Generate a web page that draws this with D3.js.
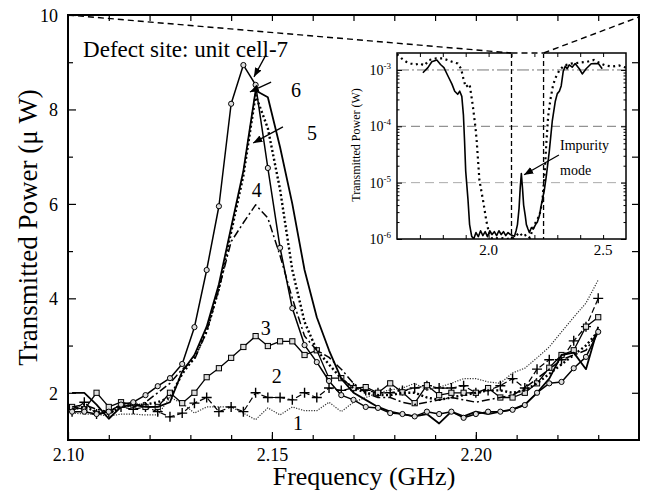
<!DOCTYPE html>
<html>
<head>
<meta charset="utf-8">
<script src="https://cdn.jsdelivr.net/npm/d3@7"></script>
<style>
  body { margin: 0; background: #fff; }
  svg text { font-family: "Liberation Serif", "Times New Roman", serif; fill: #000; }
  .axis path { display: none; }
  .axis line { stroke: #000; stroke-width: 1.2; }
</style>
</head>
<body>
<div id="chart"></div>
<script>
// ---- data ----
var freq = [2.101, 2.104, 2.107, 2.110, 2.113, 2.116, 2.119, 2.122, 2.125, 2.128, 2.131,
            2.134, 2.137, 2.140, 2.143, 2.146, 2.149, 2.152, 2.155, 2.158, 2.161, 2.164,
            2.167, 2.170, 2.173, 2.176, 2.179, 2.182, 2.185, 2.188, 2.191, 2.194, 2.197,
            2.200, 2.203, 2.206, 2.209, 2.212, 2.215, 2.218, 2.221, 2.224, 2.227, 2.230];

var curve1 = [1.57, 1.55, 1.55, 1.5, 1.55, 1.55, 1.53, 1.53, 1.9, 1.78, 1.57, 1.7, 1.7, 1.7, 1.57,
              1.43, 1.68, 1.53, 1.7, 1.62, 1.62, 1.8, 1.6, 1.8, 1.9, 2.0, 2.06, 2.1, 2.2, 2.06,
              2.12, 2.2, 2.3, 2.3, 2.23, 2.2, 2.42, 2.52, 2.74, 2.97, 3.29, 3.6, 3.9, 4.39];
var curve2 = [1.6, 1.8, 1.55, 1.6, 1.7, 1.65, 1.7, 1.6, 1.49, 1.57, 1.78, 1.9, 1.6, 1.7, 1.6,
              2.0, 1.9, 1.9, 1.85, 2.0, 1.9, 2.1, 2.05, 2.1, 2.05, 2.0, 2.0, 2.05, 2.1, 2.15,
              2.1, 2.1, 2.15, 2.0, 2.05, 2.15, 2.3, 2.1, 2.5, 2.7, 2.7, 3.1, 3.4, 4.0];
var curve3 = [1.7, 1.65, 2.0, 1.7, 1.8, 1.75, 1.7, 1.7, 2.0, 1.78, 2.0, 2.33, 2.52, 2.74, 2.97,
              3.2, 2.99, 3.09, 3.09, 2.8, 2.9, 2.31, 2.31, 2.1, 2.12, 2.0, 2.2, 2.01, 1.78, 2.16,
              1.95, 2.0, 2.0, 2.0, 2.1, 1.9, 1.9, 2.0, 2.2, 2.53, 2.8, 2.9, 3.4, 3.6];
var curve4 = [1.7, 1.75, 1.65, 1.6, 1.75, 1.7, 1.8, 2.0, 2.2, 2.5, 2.7, 3.3, 4.2, 5.2, 5.6,
              5.98, 5.7, 4.9, 4.0, 3.2, 2.9, 2.75, 2.5, 2.2, 2.0, 1.9, 1.9, 1.8, 1.75, 1.8,
              1.85, 1.9, 1.85, 1.8, 1.85, 1.9, 1.95, 2.1, 2.3, 2.5, 2.7, 2.8, 2.9, 3.3];
var curve5 = [1.65, 1.7, 1.6, 1.55, 1.7, 1.75, 1.75, 1.8, 1.9, 2.4, 2.75, 3.3, 4.2, 5.4, 6.6,
              8.3, 7.6, 6.3, 4.6, 3.5, 2.9, 2.6, 2.3, 2.1, 2.0, 1.95, 1.95, 2.0, 2.0, 1.9,
              1.85, 1.9, 1.95, 2.0, 2.05, 2.05, 2.0, 2.05, 2.2, 2.4, 2.6, 2.8, 3.0, 3.3];
var curve6 = [2.0, 2.0, 1.75, 1.45, 1.7, 1.75, 1.7, 1.7, 1.8, 2.45, 2.8, 3.4, 4.3, 5.5, 6.7,
              8.4, 8.26, 7.2, 6.0, 4.6, 3.6, 2.9, 2.3, 2.0, 1.85, 1.7, 1.6, 1.55, 1.5, 1.55,
              1.35, 1.6, 1.5, 1.6, 1.55, 1.6, 1.65, 1.75, 2.0, 2.3, 2.8, 2.85, 2.5, 3.4];
var curve7 = [1.6, 1.6, 1.55, 1.6, 1.75, 1.8, 1.95, 2.14, 2.31, 2.61, 3.39, 4.6, 5.95, 8.12, 8.94,
              8.52, 6.76, 5.07, 3.79, 3.01, 2.65, 2.25, 1.95, 1.85, 1.7, 1.68, 1.57, 1.55, 1.5, 1.6,
              1.55, 1.6, 1.47, 1.55, 1.6, 1.6, 1.64, 1.74, 2.0, 2.2, 2.23, 2.52, 2.76, 3.29];

var curveLabels = ["1", "2", "3", "4", "5", "6"];
var xMajorTicks = [2.10, 2.15, 2.20];
var yMajorTicks = [2, 4, 6, 8, 10];

// inset: full band, power in W
var insetSolidFreq = [1.713, 1.735, 1.752, 1.774, 1.79, 1.805, 1.822, 1.84, 1.852, 1.865, 1.874, 1.883,
                      1.89, 1.895, 1.9, 1.91, 1.917, 1.926, 1.935, 1.945, 1.955, 1.965, 1.975, 1.985,
                      1.995, 2.005, 2.015, 2.025, 2.035, 2.045, 2.055, 2.065, 2.075, 2.085, 2.095, 2.105,
                      2.113, 2.12, 2.126, 2.133, 2.138, 2.143, 2.148, 2.153, 2.16, 2.165, 2.172, 2.178,
                      2.187, 2.195, 2.205, 2.213, 2.222, 2.23, 2.243, 2.252, 2.265, 2.278, 2.291, 2.3,
                      2.309, 2.317, 2.326, 2.335, 2.343, 2.352, 2.365, 2.378, 2.396, 2.409, 2.426, 2.448,
                      2.465, 2.48, 2.496];
var insetSolidPower = [8.9e-4, 1.1e-3, 1.4e-3, 1.5e-3, 1.25e-3, 1.1e-3, 7.9e-4, 5.6e-4, 4.2e-4, 3.7e-4, 4.2e-4, 3.4e-4,
                       1.6e-4, 5.5e-5, 1.6e-5, 5e-6, 1.8e-6, 1.12e-6, 1.0e-6, 1.3e-6, 1.1e-6, 1.4e-6, 1.15e-6, 1.35e-6,
                       1.1e-6, 1.4e-6, 1.2e-6, 1.35e-6, 1.15e-6, 1.4e-6, 1.2e-6, 1.35e-6, 1.15e-6, 1.3e-6, 1.2e-6, 1.15e-6,
                       1.12e-6, 1.4e-6, 1.8e-6, 3.5e-6, 8e-6, 1.45e-5, 8e-6, 4e-6, 2.6e-6, 1.8e-6, 1.5e-6, 1.3e-6,
                       1.6e-6, 1.5e-6, 1.8e-6, 2e-6, 2.6e-6, 4e-6, 7.2e-6, 1.3e-5, 3.6e-5, 1.23e-4, 2.75e-4, 3.8e-4,
                       4.2e-4, 5.2e-4, 9.5e-4, 1.17e-3, 1.05e-3, 1.23e-3, 1.12e-3, 1.3e-3, 1.05e-3, 8.5e-4, 1.05e-3, 1.29e-3,
                       1.3e-3, 1.29e-3, 1.05e-3];
var insetDotFreq = [1.6, 1.62, 1.64, 1.66, 1.68, 1.7, 1.72, 1.74, 1.77, 1.8, 1.82, 1.84, 1.865, 1.88,
                    1.89, 1.9, 1.917, 1.93, 1.943, 1.948, 1.96, 1.978, 1.99, 2.004, 2.017, 2.05, 2.08, 2.11,
                    2.135, 2.15, 2.165, 2.18, 2.2, 2.222, 2.235, 2.245, 2.252, 2.26, 2.27, 2.28, 2.29, 2.31,
                    2.33, 2.36, 2.4, 2.43, 2.46, 2.49, 2.51, 2.54, 2.57, 2.6];
var insetDotPower = [1.9e-3, 1.6e-3, 1.4e-3, 1.3e-3, 1.25e-3, 1.3e-3, 1.2e-3, 1.5e-3, 1.6e-3, 1.6e-3, 1.5e-3, 1.4e-3,
                     1.3e-3, 1.05e-3, 7e-4, 5e-4, 5.6e-4, 2.5e-4, 9.3e-5, 5.5e-5, 1.1e-5, 4.3e-6, 2.1e-6, 1.17e-6,
                     1.0e-6, 1.05e-6, 1.0e-6, 1.05e-6, 1.3e-6, 1.1e-6, 1.2e-6, 1.05e-6, 1.8e-6, 2.6e-6, 4.8e-6, 1.5e-5,
                     5e-5, 1.5e-4, 3e-4, 5e-4, 7e-4, 1e-3, 1.2e-3, 1.3e-3, 1.35e-3, 1.4e-3, 1.5e-3, 1.3e-3,
                     1.2e-3, 1.15e-3, 1.2e-3, 1.1e-3];
var insetYTicks = [1e-6, 1e-5, 1e-4, 1e-3];
var insetYExp = ["-6", "-5", "-4", "-3"];
var insetXTicks = [2.0, 2.5];
var zoomBand = [2.10, 2.24];

var serif = "'Liberation Serif', 'Times New Roman', serif";

// ---- canvas ----
var margin = {top: 15, right: 7, bottom: 51, left: 68},
    width = 646 - margin.left - margin.right,
    height = 491 - margin.top - margin.bottom;

var svg = d3.select("#chart").append("svg")
    .attr("width", 646).attr("height", 491)
    .attr("font-family", serif)
  .append("g")
    .attr("transform", "translate(" + margin.left + "," + margin.top + ")");

var defs = svg.append("defs");
defs.append("clipPath").attr("id", "clipMain")
  .append("rect").attr("width", width).attr("height", height);
defs.append("marker").attr("id", "arrow")
    .attr("viewBox", "0 0 10 10").attr("refX", 10).attr("refY", 5)
    .attr("markerWidth", 7).attr("markerHeight", 7).attr("orient", "auto")
  .append("path").attr("d", "M0,1 L10,5 L0,9 z").attr("fill", "#000");

var x = d3.scaleLinear().domain([2.10, 2.24]).range([0, width]);
var y = d3.scaleLinear().domain([1, 10]).range([height, 0]);

// ---- main axes (ticks inward) ----
svg.append("g").attr("class", "axis")
  .attr("transform", "translate(0," + height + ")")
  .call(d3.axisBottom(x).tickValues(xMajorTicks).tickSize(-8).tickPadding(8)
        .tickFormat(d3.format(".2f")))
  .selectAll("text").style("font-size", "18px");
svg.append("g").attr("class", "axis")
  .attr("transform", "translate(0," + height + ")")
  .call(d3.axisBottom(x).tickValues(d3.range(2.11, 2.235, 0.01)).tickSize(-5).tickFormat(""));
svg.append("g").attr("class", "axis")
  .call(d3.axisTop(x).tickValues(d3.range(2.11, 2.235, 0.01)).tickSize(-6).tickFormat(""));

svg.append("g").attr("class", "axis")
  .call(d3.axisLeft(y).tickValues(yMajorTicks).tickSize(-8).tickPadding(10))
  .selectAll("text").style("font-size", "18px").attr("dy", "0.35em");
svg.append("g").attr("class", "axis")
  .call(d3.axisLeft(y).tickValues([3, 5, 7, 9]).tickSize(-5).tickFormat(""));
svg.append("g").attr("class", "axis")
  .attr("transform", "translate(" + width + ",0)")
  .call(d3.axisRight(y).tickValues(d3.range(2, 10, 1)).tickSize(-7).tickFormat(""));

svg.append("rect").attr("width", width).attr("height", height)
  .attr("fill", "none").attr("stroke", "#000").attr("stroke-width", 2);

// axis titles
svg.append("text")
  .attr("x", 296).attr("y", height + 45)
  .attr("text-anchor", "middle").style("font-size", "26px")
  .text("Frequency (GHz)");
svg.append("text")
  .attr("transform", "translate(" + (-31) + "," + (height / 2) + ") rotate(-90)")
  .attr("text-anchor", "middle").style("font-size", "27px")
  .text("Transmitted Power (\u03bc W)");

// ---- curves ----
var series = [
  {values: curve1, width: 1.2, dash: "1.2,1.4", color: "#333"},
  {values: curve2, width: 1.2, dash: "6,3", marker: "plus"},
  {values: curve3, width: 1.3, dash: null, marker: "square"},
  {values: curve4, width: 1.5, dash: "8,3,2,3"},
  {values: curve5, width: 2.4, dash: "2,2.5"},
  {values: curve6, width: 1.8, dash: null},
  {values: curve7, width: 1.5, dash: null, marker: "circle"}
];

var line = d3.line()
  .x(function(d) { return x(d.f); })
  .y(function(d) { return y(d.v); });

var plot = svg.append("g").attr("clip-path", "url(#clipMain)");

series.forEach(function(s) {
  var pts = freq.map(function(f, i) { return {f: f, v: s.values[i]}; });
  plot.append("path")
    .datum(pts)
    .attr("d", line)
    .attr("fill", "none")
    .attr("stroke", s.color || "#000")
    .attr("stroke-width", s.width)
    .attr("stroke-dasharray", s.dash)
    .attr("stroke-linejoin", "round");

  if (s.marker === "circle") {
    plot.selectAll(null).data(pts).enter().append("circle")
      .attr("cx", function(d) { return x(d.f); })
      .attr("cy", function(d) { return y(d.v); })
      .attr("r", 2.6).attr("fill", "#ddd").attr("stroke", "#000").attr("stroke-width", 1);
  } else if (s.marker === "square") {
    plot.selectAll(null).data(pts).enter().append("rect")
      .attr("x", function(d) { return x(d.f) - 2.6; })
      .attr("y", function(d) { return y(d.v) - 2.6; })
      .attr("width", 5.2).attr("height", 5.2)
      .attr("fill", "#ddd").attr("stroke", "#000").attr("stroke-width", 1);
  } else if (s.marker === "plus") {
    plot.selectAll(null).data(pts).enter().append("path")
      .attr("transform", function(d) { return "translate(" + x(d.f) + "," + y(d.v) + ")"; })
      .attr("d", "M-5,0H5M0,-5V5")
      .attr("stroke", "#000").attr("stroke-width", 1.4);
  }
});

// ---- annotations ----
var labelPos = [[2.1564, 1.21], [2.1512, 2.21], [2.1485, 3.22], [2.1463, 6.15], [2.1598, 7.35], [2.1559, 8.26]];
svg.selectAll(".clabel").data(curveLabels).enter().append("text")
  .attr("class", "clabel")
  .attr("x", function(d, i) { return x(labelPos[i][0]); })
  .attr("y", function(d, i) { return y(labelPos[i][1]); })
  .attr("text-anchor", "middle").style("font-size", "20px")
  .text(function(d) { return d; });

svg.append("text")
  .attr("x", x(2.1037)).attr("y", y(9.11))
  .style("font-size", "23px")
  .text("Defect site: unit cell-7");

var arrows = [
  [[2.1485, 9.15], [2.1456, 8.69]],
  [[2.1498, 8.58], [2.1446, 8.37]],
  [[2.1527, 7.63], [2.1454, 7.29]]
];
arrows.forEach(function(a) {
  svg.append("line")
    .attr("x1", x(a[0][0])).attr("y1", y(a[0][1]))
    .attr("x2", x(a[1][0])).attr("y2", y(a[1][1]))
    .attr("stroke", "#000").attr("stroke-width", 1.3)
    .attr("marker-end", "url(#arrow)");
});

// ---- inset ----
var inset = {left: 329, right: 558, top: 38, bottom: 224};
var xi = d3.scaleLinear().domain([1.6, 2.6]).range([inset.left, inset.right]);
var yi = d3.scaleLog().domain([1e-6, 2e-3]).range([inset.bottom, inset.top]);

defs.append("clipPath").attr("id", "clipInset")
  .append("rect").attr("x", inset.left).attr("y", inset.top)
  .attr("width", inset.right - inset.left).attr("height", inset.bottom - inset.top);

svg.append("rect")
  .attr("x", inset.left).attr("y", inset.top)
  .attr("width", inset.right - inset.left).attr("height", inset.bottom - inset.top)
  .attr("fill", "#fff");

// grid
var gridDash = ["0", "9,5", "9,5", "12,3,2,3"];
insetYTicks.forEach(function(t, i) {
  if (i === 0) return;
  svg.append("line")
    .attr("x1", inset.left).attr("x2", inset.right)
    .attr("y1", yi(t)).attr("y2", yi(t))
    .attr("stroke", i === 1 ? "#aaa" : "#777").attr("stroke-width", 1)
    .attr("stroke-dasharray", gridDash[i]);
});

// inset ticks
var insetG = svg.append("g").attr("class", "axis");
insetG.append("g").attr("transform", "translate(0," + inset.bottom + ")")
  .call(d3.axisBottom(xi).tickValues(d3.range(1.7, 2.55, 0.1)).tickSize(-4).tickFormat(""));
insetG.append("g").attr("transform", "translate(0," + inset.top + ")")
  .call(d3.axisTop(xi).tickValues(d3.range(1.7, 2.55, 0.1)).tickSize(-4).tickFormat(""));
var logMinor = [];
insetYTicks.forEach(function(t) {
  for (var k = 2; k <= 9; k++) if (t * k < 2e-3) logMinor.push(t * k);
});
insetG.append("g").attr("transform", "translate(" + inset.left + ",0)")
  .call(d3.axisLeft(yi).tickValues(logMinor).tickSize(-2.5).tickFormat(""));
insetG.append("g").attr("transform", "translate(" + inset.right + ",0)")
  .call(d3.axisRight(yi).tickValues(logMinor).tickSize(-2.5).tickFormat(""));
insetG.append("g").attr("transform", "translate(" + inset.left + ",0)")
  .call(d3.axisLeft(yi).tickValues(insetYTicks).tickSize(-5).tickFormat(""));
insetG.append("g").attr("transform", "translate(" + inset.right + ",0)")
  .call(d3.axisRight(yi).tickValues(insetYTicks).tickSize(-5).tickFormat(""));
insetG.selectAll("line").style("stroke-width", 1);

// inset tick labels
insetXTicks.forEach(function(t) {
  svg.append("text").attr("x", xi(t)).attr("y", inset.bottom + 16)
    .attr("text-anchor", "middle").style("font-size", "15px")
    .text(d3.format(".1f")(t));
});
insetYTicks.forEach(function(t, i) {
  var tx = svg.append("text").attr("x", inset.left - 6).attr("y", yi(t) + 5)
    .attr("text-anchor", "end").style("font-size", "14px");
  tx.append("tspan").text("10");
  tx.append("tspan").attr("dy", -6).style("font-size", "9px").text(insetYExp[i]);
});
svg.append("text")
  .attr("transform", "translate(" + (inset.left - 37) + "," + ((inset.top + inset.bottom) / 2 - 1) + ") rotate(-90)")
  .attr("text-anchor", "middle").style("font-size", "12px")
  .text("Transmitted Power (W)");

// inset curves
var lineI = d3.line()
  .x(function(d) { return xi(d[0]); })
  .y(function(d) { return yi(d[1]); });
var insetPlot = svg.append("g").attr("clip-path", "url(#clipInset)");
insetPlot.append("path")
  .datum(d3.zip(insetDotFreq, insetDotPower))
  .attr("d", lineI).attr("fill", "none").attr("stroke", "#000")
  .attr("stroke-width", 2.2).attr("stroke-dasharray", "2,3.5");
insetPlot.append("path")
  .datum(d3.zip(insetSolidFreq, insetSolidPower))
  .attr("d", lineI).attr("fill", "none").attr("stroke", "#000")
  .attr("stroke-width", 1.6).attr("stroke-linejoin", "round");

// band markers
zoomBand.forEach(function(f) {
  svg.append("line")
    .attr("x1", xi(f)).attr("x2", xi(f))
    .attr("y1", inset.top).attr("y2", inset.bottom)
    .attr("stroke", "#000").attr("stroke-width", 1.3).attr("stroke-dasharray", "5,3");
});

svg.append("rect")
  .attr("x", inset.left).attr("y", inset.top)
  .attr("width", inset.right - inset.left).attr("height", inset.bottom - inset.top)
  .attr("fill", "none").attr("stroke", "#000").attr("stroke-width", 1.5);

// zoom connectors
var zoomLines = [
  [[x(zoomBand[0]), y(10)], [xi(zoomBand[0]), inset.top]],
  [[xi(zoomBand[0]), inset.top], [xi(zoomBand[1]), inset.top]],
  [[xi(zoomBand[1]), inset.top], [x(zoomBand[1]), y(10) + 2]]
];
svg.append("line")
  .attr("x1", xi(zoomBand[0])).attr("x2", xi(zoomBand[1]))
  .attr("y1", inset.top).attr("y2", inset.top)
  .attr("stroke", "#fff").attr("stroke-width", 2);
zoomLines.forEach(function(l) {
  svg.append("line")
    .attr("x1", l[0][0]).attr("y1", l[0][1]).attr("x2", l[1][0]).attr("y2", l[1][1])
    .attr("stroke", "#000").attr("stroke-width", 1.4).attr("stroke-dasharray", "6,4");
});

// impurity mode annotation
svg.append("text").attr("x", xi(2.312)).attr("y", yi(3.8e-5))
  .style("font-size", "14px").text("Impurity");
svg.append("text").attr("x", xi(2.312)).attr("y", yi(1.38e-5))
  .style("font-size", "14px").text("mode");
svg.append("line")
  .attr("x1", xi(2.307)).attr("y1", yi(3.1e-5))
  .attr("x2", xi(2.155)).attr("y2", yi(1.38e-5))
  .attr("stroke", "#000").attr("stroke-width", 1.3)
  .attr("marker-end", "url(#arrow)");

// make sure every label uses the serif face
d3.selectAll("svg text").style("font-family", serif);
</script>
</body>
</html>
